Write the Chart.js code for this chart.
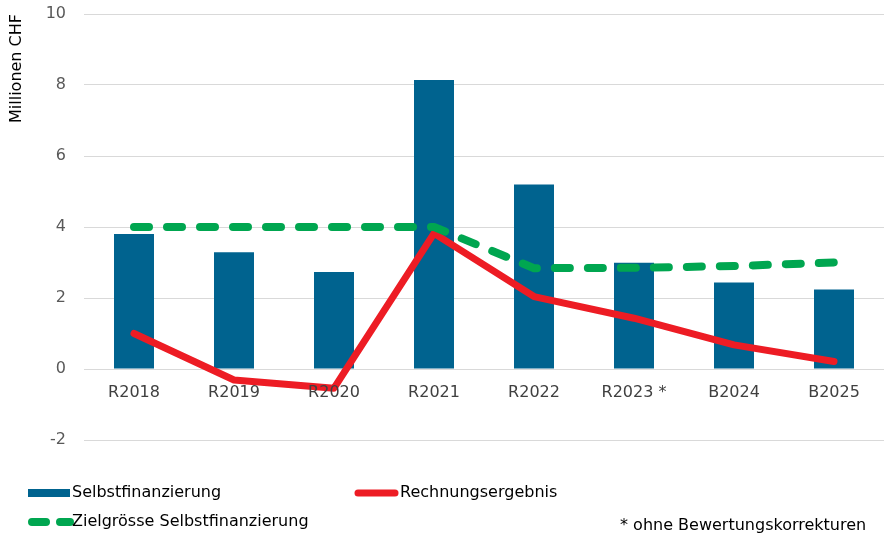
<!DOCTYPE html>
<html>
<head>
<meta charset="utf-8">
<script src="https://cdn.jsdelivr.net/npm/chart.js@4"></script>
<style>
  html, body { margin: 0; padding: 0; background: #fff; }
  #wrap { width: 884px; height: 536px; position: relative; }
</style>
</head>
<body>
<div id="wrap"><canvas id="c" width="884" height="536"></canvas></div>
<script>
// Jahre (R = Rechnung, B = Budget)
const categories = ['R2018', 'R2019', 'R2020', 'R2021', 'R2022', 'R2023 *', 'B2024', 'B2025'];
// Werte in Millionen CHF
const selbstfinanzierung = [3.80, 3.29, 2.73, 8.14, 5.20, 2.99, 2.44, 2.24];
const rechnungsergebnis  = [1.00, -0.31, -0.54, 3.82, 2.04, 1.43, 0.68, 0.21];
const zielgroesse        = [4.00, 4.00, 4.00, 4.00, 2.84, 2.85, 2.90, 3.00];
const yTicks = [-2, 0, 2, 4, 6, 8, 10];

const BLUE = '#00638F';
const RED = '#ED1C24';
const GREEN = '#00A650';
const FONT = 'DejaVu Sans';

// Category labels sit next to the zero line
const zeroLineLabels = {
  id: 'zeroLineLabels',
  afterDatasetsDraw(chart) {
    const { ctx, scales: { x, y } } = chart;
    const yPix = y.getPixelForValue(0) + 24;
    ctx.save();
    ctx.font = '16px "' + FONT + '"';
    ctx.fillStyle = '#404040';
    ctx.textAlign = 'center';
    ctx.textBaseline = 'middle';
    categories.forEach((c, i) => ctx.fillText(c, x.getPixelForValue(i), yPix));
    ctx.restore();
  }
};

// Two-column legend and footnote below the plot
const bottomLegend = {
  id: 'bottomLegend',
  afterDraw(chart) {
    const { ctx } = chart;
    const ds = chart.data.datasets;
    ctx.save();
    ctx.font = '16px "' + FONT + '"';
    ctx.fillStyle = '#000';
    ctx.textBaseline = 'middle';
    ctx.textAlign = 'left';

    // Selbstfinanzierung
    ctx.fillStyle = ds[0].backgroundColor;
    ctx.fillRect(28, 489, 42, 8);
    ctx.fillStyle = '#000';
    ctx.fillText(ds[0].label, 72, 493);

    // Rechnungsergebnis
    ctx.strokeStyle = ds[1].borderColor;
    ctx.lineWidth = 7;
    ctx.lineCap = 'round';
    ctx.beginPath();
    ctx.moveTo(358, 493);
    ctx.lineTo(395, 493);
    ctx.stroke();
    ctx.fillText(ds[1].label, 400, 493);

    // Zielgrösse Selbstfinanzierung
    ctx.strokeStyle = ds[2].borderColor;
    ctx.lineWidth = 8;
    ctx.setLineDash([14, 14]);
    ctx.beginPath();
    ctx.moveTo(32, 522);
    ctx.lineTo(70, 522);
    ctx.stroke();
    ctx.setLineDash([]);
    ctx.fillText(ds[2].label, 72, 522);

    ctx.fillText('* ohne Bewertungskorrekturen', 620, 526);
    ctx.restore();
  }
};

new Chart(document.getElementById('c'), {
  type: 'bar',
  data: {
    labels: categories,
    datasets: [
      {
        type: 'bar',
        label: 'Selbstfinanzierung',
        data: selbstfinanzierung,
        backgroundColor: BLUE,
        borderWidth: 0,
        barPercentage: 0.4,
        categoryPercentage: 1.0,
        order: 3
      },
      {
        type: 'line',
        label: 'Rechnungsergebnis',
        data: rechnungsergebnis,
        borderColor: RED,
        backgroundColor: RED,
        borderWidth: 7,
        borderCapStyle: 'round',
        borderJoinStyle: 'round',
        pointRadius: 0,
        tension: 0,
        order: 2
      },
      {
        type: 'line',
        label: 'Zielgrösse Selbstfinanzierung',
        data: zielgroesse,
        borderColor: GREEN,
        backgroundColor: GREEN,
        borderWidth: 8,
        borderDash: [15, 18],
        borderCapStyle: 'round',
        borderJoinStyle: 'round',
        pointRadius: 0,
        tension: 0,
        order: 1
      }
    ]
  },
  options: {
    responsive: false,
    animation: false,
    layout: { padding: { top: 14, right: 0, bottom: 96, left: 0 } },
    plugins: {
      legend: { display: false },
      tooltip: { enabled: false }
    },
    scales: {
      x: {
        offset: true,
        grid: { display: false },
        border: { display: false },
        ticks: { display: false },
        afterFit(scale) { scale.height = 0; scale.paddingLeft = 0; scale.paddingRight = 0; }
      },
      y: {
        min: -2,
        max: 10,
        afterBuildTicks(scale) { scale.ticks = yTicks.map(v => ({ value: v })); },
        grid: { color: '#D9D9D9', lineWidth: 1, drawTicks: false },
        border: { display: false },
        ticks: {
          padding: 18,
          color: '#595959',
          font: { family: FONT, size: 16 }
        },
        title: {
          display: true,
          text: 'Millionen CHF',
          align: 'end',
          color: '#000',
          font: { family: FONT, size: 16 },
          padding: { top: 7, bottom: 0 }
        },
        afterFit(scale) { scale.width = 84; scale.paddingTop = 0; scale.paddingBottom = 0; }
      }
    }
  },
  plugins: [zeroLineLabels, bottomLegend]
});
</script>
</body>
</html>
